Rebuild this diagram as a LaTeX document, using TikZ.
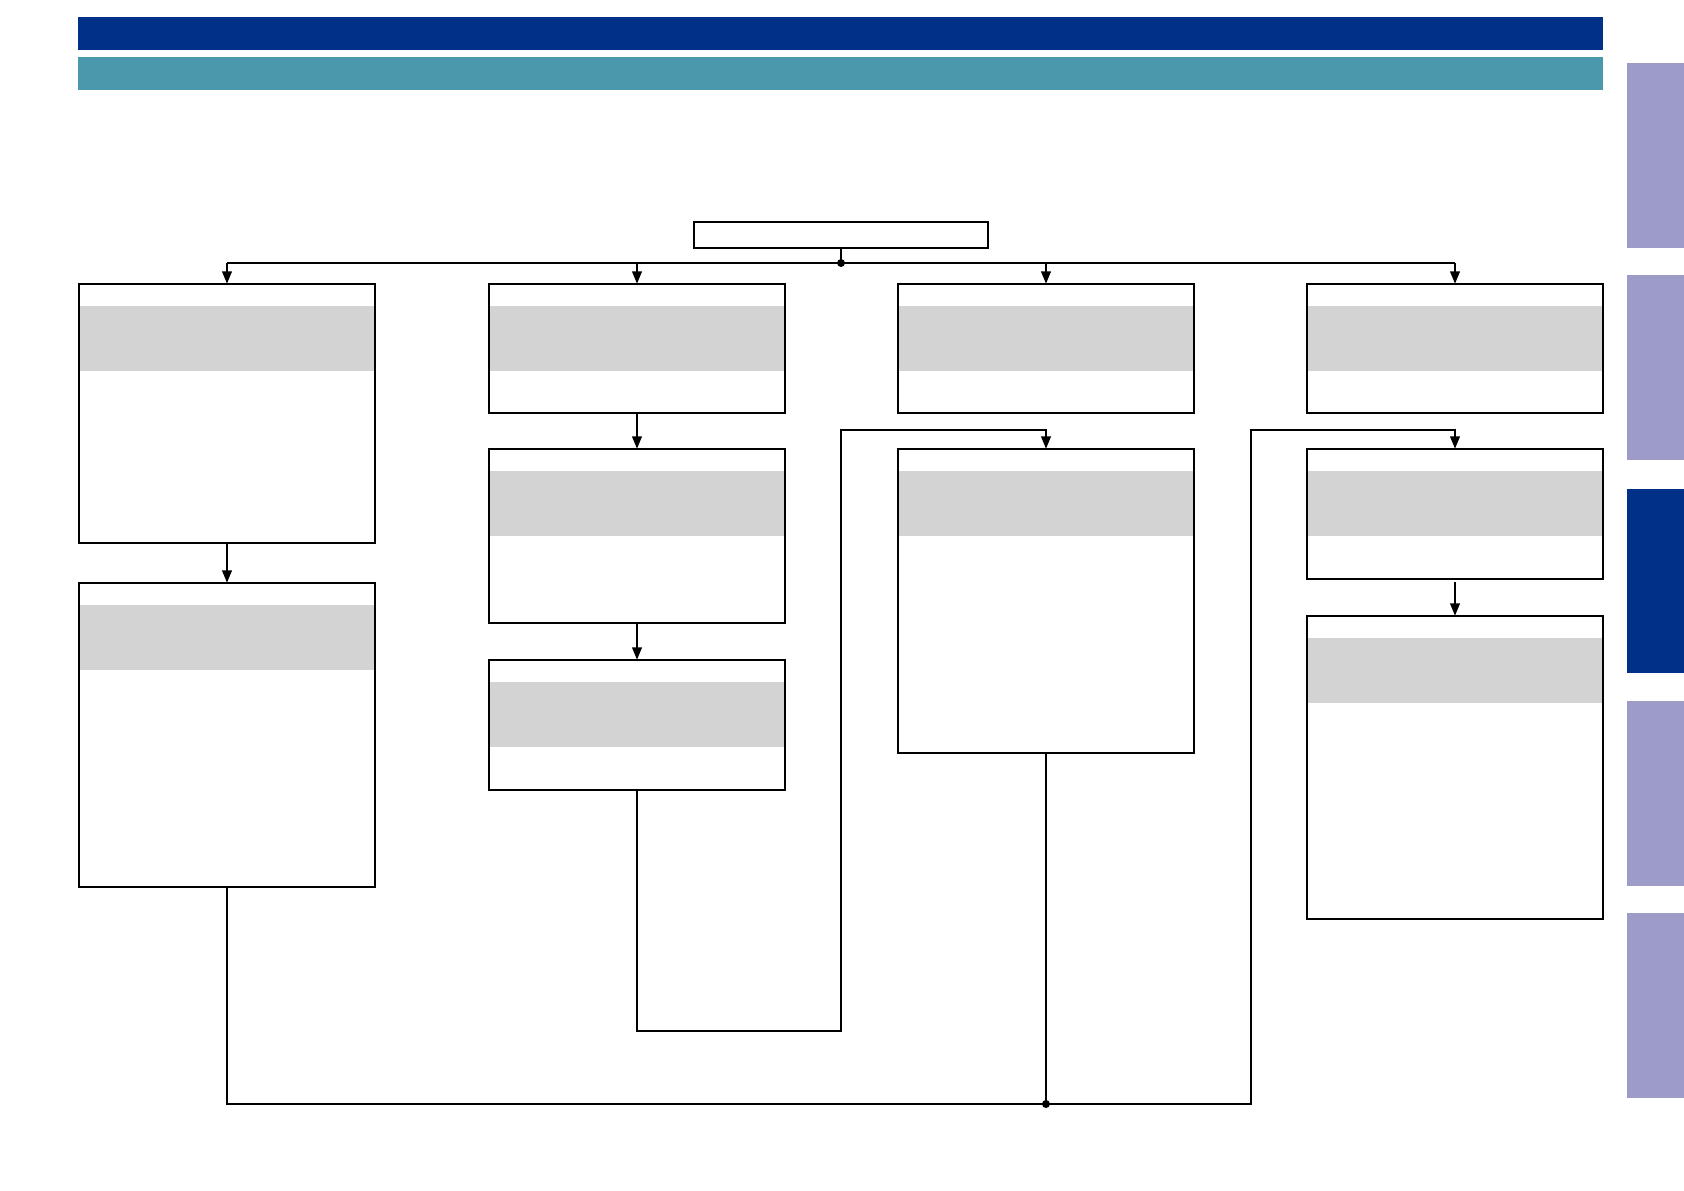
\documentclass[tikz,border=0pt]{standalone}
\usetikzlibrary{arrows.meta, calc}

\definecolor{headblue}{RGB}{0,48,135}
\definecolor{headteal}{RGB}{74,152,172}
\definecolor{tabviolet}{RGB}{157,155,199}
\definecolor{bandgray}{RGB}{211,211,211}

\begin{document}
\begin{tikzpicture}[x=0.3pt, y=-0.3pt, >={Triangle[width=2.8pt, length=3.8pt]}]

    % Define styles
    \tikzset{
        headbar/.style={fill=headblue},
        subbar/.style={fill=headteal},
        sidetab/.style={fill=tabviolet},
        sidetab active/.style={fill=headblue},
        titlebox/.style={draw, line width=0.85pt, inner sep=0pt, outer sep=0pt,
            minimum width=294*0.3pt, minimum height=26*0.3pt, anchor=north},
        stepbox/.style={draw, line width=0.85pt, inner sep=0pt, outer sep=0pt,
            minimum width=296*0.3pt, anchor=north,
            path picture={\fill[bandgray]
                ($(path picture bounding box.north west)+(1,22)$) rectangle
                ($(path picture bounding box.north east)+(-1,87)$);}},
        flowline/.style={line width=0.85pt},
        flowarrow/.style={->, line width=0.85pt},
        joint/.style={circle, fill, inner sep=0pt, minimum size=2.4pt}
    }

    % 1. Page frame
    \useasboundingbox (0,0) rectangle (1684,1191);

    % 2. Header bars
    \fill[headbar] (78,17) rectangle (1603,50);
    \fill[subbar] (78,57) rectangle (1603,90);

    % 3. Side tabs
    \fill[sidetab] (1627,63) rectangle (1684,248);
    \fill[sidetab] (1627,275) rectangle (1684,460);
    \fill[sidetab active] (1627,489) rectangle (1684,673);
    \fill[sidetab] (1627,701) rectangle (1684,886);
    \fill[sidetab] (1627,913) rectangle (1684,1098);

    % 4. Boxes
    \node[titlebox] (top) at (841,222) {};

    % column 1
    \node[stepbox, minimum height=259*0.3pt] (c1b1) at (227,284) {};
    \node[stepbox, minimum height=304*0.3pt] (c1b2) at (227,583) {};
    % column 2
    \node[stepbox, minimum height=129*0.3pt] (c2b1) at (637,284) {};
    \node[stepbox, minimum height=174*0.3pt] (c2b2) at (637,449) {};
    \node[stepbox, minimum height=130*0.3pt] (c2b3) at (637,660) {};
    % column 3
    \node[stepbox, minimum height=129*0.3pt] (c3b1) at (1046,284) {};
    \node[stepbox, minimum height=304*0.3pt] (c3b2) at (1046,449) {};
    % column 4
    \node[stepbox, minimum height=129*0.3pt] (c4b1) at (1455,284) {};
    \node[stepbox, minimum height=130*0.3pt] (c4b2) at (1455,449) {};
    \node[stepbox, minimum height=303*0.3pt] (c4b3) at (1455,616) {};

    % 5. Distribution from the top box
    \coordinate (busTop) at (841,263);
    \draw[flowline] (top.south) -- (busTop);
    \draw[flowline] (c1b1.north |- busTop) -- (c4b1.north |- busTop);
    \foreach \col in {c1b1, c2b1, c3b1, c4b1}
        \draw[flowarrow] (\col.north |- busTop) -- (\col.north);
    \node[joint] at (busTop) {};

    % 6. Arrows inside the columns
    \draw[flowarrow] (c1b1.south) -- (c1b2.north);
    \draw[flowarrow] (c2b1.south) -- (c2b2.north);
    \draw[flowarrow] (c2b2.south) -- (c2b3.north);
    \draw[flowarrow] ($(c4b2.south)+(0,3)$) -- (c4b3.north);

    % 7. Loop from column 2 into column 3
    \coordinate (turnC) at (841,1031);
    \coordinate (jogC) at (1046,430);
    \draw[flowarrow] (c2b3.south) |- (turnC) |- (jogC) -- (c3b2.north);

    % 8. Bottom bus into column 4
    \coordinate (busJoin) at (1046,1104);
    \coordinate (turnD) at (1251,1104);
    \coordinate (jogD) at (1455,430);
    \draw[flowarrow] (c1b2.south) |- (turnD) |- (jogD) -- (c4b2.north);
    \draw[flowline] (c3b2.south) -- (busJoin);
    \node[joint] at (busJoin) {};

\end{tikzpicture}
\end{document}
